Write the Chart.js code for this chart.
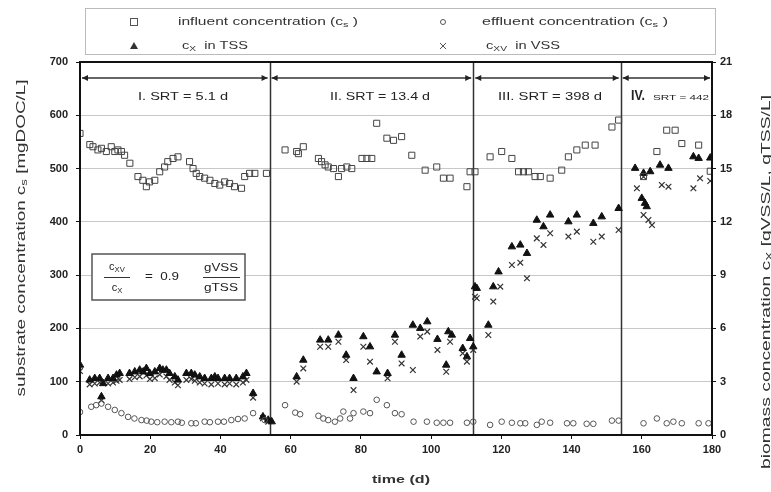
<!DOCTYPE html>
<html>
<head>
<meta charset="utf-8">
<script src="https://cdn.jsdelivr.net/npm/chart.js@4.4.0/dist/chart.umd.min.js"></script>
<style>
  body { margin: 0; background: #fff; }
  #wrap { width: 771px; height: 492px; }
</style>
</head>
<body>
<div id="wrap"><canvas id="chart" width="771" height="492"></canvas></div>
<script>
// datos: [tiempo (d), valor]
const influent = [
  [0,566],[2.8,545],[3.7,541],[5.1,535],[6.1,538],[7.5,532],[8.9,541],[9.9,532],[10.8,535],[11.8,532],
  [12.7,525],[14.2,510],[16.5,485],[17.9,478],[18.9,466],[19.8,475],[21.3,478],[22.7,494],[24.1,503],
  [25,513],[26.5,519],[27.9,522],[31.2,513],[32.2,500],[33.1,491],[34.1,485],[35.5,482],[37,478],
  [38.4,472],[39.8,469],[41.2,475],[42.6,472],[44,466],[46,463],[46.9,485],[48.3,491],[49.8,491],[53.1,491],
  [58.4,535],[61.7,532],[62.2,528],[63.6,541],[67.9,519],[68.8,513],[69.8,507],[70.7,503],[72.2,500],
  [73.6,485],[74.5,500],[76,503],[77.4,500],[80.3,519],[81.7,519],[83.1,519],[84.5,585],[87.4,557],
  [89.3,553],[91.6,560],[94.5,525],[98.3,497],[101.6,503],[103.5,482],[105.4,482],[110.2,466],[111.1,494],[112.5,494],
  [116.8,522],[120.1,532],[123,519],[124.9,494],[126.3,494],[127.7,494],[129.6,485],[131.1,485],[133.9,482],
  [137.2,497],[139.1,522],[141.5,535],[143.9,544],[146.7,544],[151.5,578],[153.4,591],
  [160.5,485],[164.3,532],[167.1,572],[169.5,572],[171.4,547],[176.2,544],[179.5,495]
];
const effluent = [
  [0,43],[3.2,53],[4.6,56],[6.1,59],[8,53],[9.9,47],[11.8,41],[13.7,34],[15.5,31],[17.5,28],[19,27],
  [20.3,25],[22,24],[24.1,25],[26,24],[27.9,25],[29,23],[31.7,22],[33,22],[35.5,25],[37,24],[39.3,25],
  [41,25],[43.1,28],[45,30],[46.9,31],[49.3,41],[52.6,28],
  [58.4,56],[61.3,42],[62.7,39],[67.9,36],[69.3,31],[70.7,28],[72.6,25],[74.1,31],[75,44],[76.9,31],
  [77.9,41],[80.7,44],[82.6,41],[84.5,66],[87.4,56],[89.7,41],[91.6,39],[95,25],[98.8,25],[101.6,23],
  [103.5,23],[105.4,23],[110.2,23],[112,25],
  [116.8,19],[120.1,25],[123,23],[125.4,22],[126.8,22],[130.1,19],[131.5,25],[133.9,23],[138.7,22],
  [140.5,22],[144.3,21],[146.2,21],[151.5,27],[153.4,27],
  [160.5,22],[164.3,31],[167.1,22],[169,25],[171.4,22],[176.2,22],[179,22]
];
const tss = [
  [0,3.94],[2.75,3.10],[4.2,3.19],[5.6,3.19],[6.1,2.16],[6.6,2.9],[8,3.19],[9.4,3.19],[10.4,3.38],
  [11.3,3.47],[14.1,3.47],[15.6,3.56],[17,3.66],[18,3.56],[18.9,3.75],[19.9,3.47],[21.3,3.56],[22.7,3.75],
  [23.6,3.66],[24.6,3.66],[25.5,3.47],[27,3.28],[27.9,3.10],[30.3,3.47],[31.7,3.47],[32.7,3.38],[34.1,3.28],
  [35.5,3.19],[37.4,3.19],[38.4,3.28],[39.3,3.19],[41.2,3.19],[42.6,3.19],[44.5,3.19],[46.4,3.28],
  [47.4,3.47],[49.3,2.35],[52.1,1.03],[53.6,0.84],
  [54.6,0.75],[61.7,3.28],[63.6,4.22],[68.4,5.35],[70.7,5.35],[73.6,5.63],[75.8,4.5],[77.9,3.19],
  [80.7,5.54],[82.6,4.97],[84.5,3.56],[87.6,3.47],[89.7,5.63],[91.6,4.5],[94.8,6.19],[96.9,6.01],
  [98.9,6.38],[101.8,5.39],[104.3,3.94],[104.9,5.82],[105.9,5.63],[109,4.88],[110.2,4.41],[111.1,5.44],[112,4.97],
  [112.5,8.35],[113,8.26],[116.3,6.19],[117.7,8.35],[119.2,9.19],[123,10.6],[125.4,10.7],[127.3,10.23],
  [130.1,12.1],[132,11.73],[133.9,12.39],[139.1,12.01],[141.5,12.39],[146.2,11.92],[148.6,12.29],[153.4,12.76],
  [158.1,15.02],[160,13.33],[160.5,14.74],[160.9,13.05],[161.4,12.86],[162.4,14.83],[165.2,15.2],
  [167.6,15.02],[174.7,15.67],[176.2,15.58],[179.5,15.6]
];
const vss = [
  [0,3.6],[2.75,2.85],[4.2,2.9],[5.6,2.95],[6.1,1.95],[8,2.9],[9.4,2.95],[10.4,3.05],[11.3,3.1],
  [14.1,3.15],[15.6,3.25],[17,3.3],[18.9,3.35],[19.9,3.15],[21.3,3.2],[22.7,3.4],[24.6,3.3],[25.5,3.1],
  [27,2.95],[27.9,2.8],[30.3,3.1],[31.7,3.15],[32.7,3.05],[34.1,2.95],[35.5,2.9],[37.4,2.85],[39.3,2.9],
  [41.2,2.85],[42.6,2.9],[44.5,2.85],[46.4,2.95],[47.4,3.1],[49.3,2.1],[52.1,0.95],[53.6,0.75],
  [61.7,3.0],[63.6,3.75],[68.4,4.97],[70.7,4.97],[73.6,5.25],[75.8,4.22],[77.9,2.53],[80.7,4.97],
  [82.6,4.13],[87.6,3.19],[89.7,5.25],[91.6,4.03],[94.8,3.66],[96.9,5.54],[98.9,5.82],[101.8,4.79],
  [104.3,3.56],[105.4,5.25],[109,4.6],[110.2,4.13],[112,4.79],
  [112.5,7.79],[113,7.7],[116.3,5.63],[117.7,7.51],[119.7,8.35],[123,9.57],[125.4,9.7],[127.3,8.82],
  [130.1,11.07],[132,10.7],[133.9,11.36],[139.1,11.17],[141.5,11.45],[146.2,10.88],[148.6,11.17],[153.4,11.54],
  [158.6,13.89],[160.5,14.54],[160.5,12.39],[161.9,12.11],[162.9,11.82],[165.7,14.08],[167.6,13.98],
  [174.7,13.89],[176.6,14.45],[179.5,14.3]
];

// fases del reactor
const phaseBounds = [0, 54, 112, 154, 180];
const phaseLabels = ['I. SRT = 5.1 d', 'II. SRT = 13.4 d', 'III. SRT = 398 d', 'IV.'];

const FONT = '"Liberation Sans", Arial, sans-serif';
const toXY = arr => arr.map(p => ({ x: p[0], y: p[1] }));

// texto con subindices: partes [texto, esSub]; w = ancho deseado (estira el texto)
function drawParts(ctx, parts, x, y, size, align, w, weight) {
  const wt = weight ? weight + ' ' : '';
  let total = 0;
  parts.forEach(p => {
    ctx.font = wt + (p[1] ? size * 0.7 : size) + 'px ' + FONT;
    total += ctx.measureText(p[0]).width;
  });
  const k = w ? w / total : 1;
  ctx.save();
  ctx.translate(x, y);
  ctx.scale(k, 1);
  let cx = align === 'center' ? -total / 2 : 0;
  ctx.textAlign = 'left';
  ctx.textBaseline = 'middle';
  parts.forEach(p => {
    ctx.font = wt + (p[1] ? size * 0.7 : size) + 'px ' + FONT;
    ctx.fillText(p[0], cx, p[1] ? size * 0.3 : 0);
    cx += ctx.measureText(p[0]).width;
  });
  ctx.restore();
}

const overlay = {
  id: 'overlay',
  beforeDatasetsDraw(chart) {
    const { ctx, chartArea: a, scales } = chart;
    ctx.save();
    // lineas de cambio de fase
    ctx.strokeStyle = '#333';
    ctx.lineWidth = 1.5;
    phaseBounds.slice(1, -1).forEach(d => {
      const px = Math.round(scales.x.getPixelForValue(d)) + 0.5;
      ctx.beginPath();
      ctx.moveTo(px, a.top);
      ctx.lineTo(px, a.bottom);
      ctx.stroke();
    });
    // flechas de cada fase
    const ay = scales.y.getPixelForValue(670);
    ctx.fillStyle = '#222';
    for (let i = 0; i < phaseBounds.length - 1; i++) {
      const x1 = scales.x.getPixelForValue(phaseBounds[i]) + 2;
      const x2 = scales.x.getPixelForValue(phaseBounds[i + 1]) - 2;
      ctx.lineWidth = 1.5;
      ctx.beginPath();
      ctx.moveTo(x1, ay);
      ctx.lineTo(x2, ay);
      ctx.stroke();
      ctx.beginPath();
      ctx.moveTo(x1, ay); ctx.lineTo(x1 + 6, ay - 3); ctx.lineTo(x1 + 6, ay + 3); ctx.closePath();
      ctx.moveTo(x2, ay); ctx.lineTo(x2 - 6, ay - 3); ctx.lineTo(x2 - 6, ay + 3); ctx.closePath();
      ctx.fill();
    }
    // etiquetas de fase
    const ly = scales.y.getPixelForValue(634);
    ctx.fillStyle = '#222';
    drawParts(ctx, [[phaseLabels[0], 0]], 183, ly, 11, 'center', 90);
    drawParts(ctx, [[phaseLabels[1], 0]], 380, ly, 11, 'center', 100);
    drawParts(ctx, [[phaseLabels[2], 0]], 550, ly, 11, 'center', 104);
    drawParts(ctx, [[phaseLabels[3], 0]], 631, ly - 1, 14, 'left', 14, 'bold');
    drawParts(ctx, [['SRT = 442', 0]], 653, ly + 1, 8, 'left', 56);
    ctx.restore();
  },
  afterDraw(chart) {
    const { ctx, chartArea: a } = chart;
    ctx.save();
    // marco del grafico
    ctx.strokeStyle = '#111';
    ctx.lineWidth = 2;
    ctx.strokeRect(a.left, a.top, a.right - a.left, a.bottom - a.top);

    // leyenda
    ctx.strokeStyle = '#bbb';
    ctx.lineWidth = 1;
    ctx.strokeRect(85.5, 8.5, 630, 46);
    ctx.fillStyle = '#333';
    const r1 = 22, r2 = 46;
    ctx.strokeStyle = '#555';
    ctx.strokeRect(130.5, r1 - 3.5, 7, 7);
    ctx.beginPath(); ctx.arc(443, r1, 2.5, 0, Math.PI * 2); ctx.stroke();
    ctx.beginPath(); ctx.moveTo(134, r2 - 4); ctx.lineTo(138, r2 + 3); ctx.lineTo(130, r2 + 3); ctx.closePath(); ctx.fill();
    ctx.beginPath(); ctx.moveTo(440, r2 - 3); ctx.lineTo(446, r2 + 3); ctx.moveTo(446, r2 - 3); ctx.lineTo(440, r2 + 3); ctx.stroke();
    drawParts(ctx, [['influent concentration (c', 0], ['s', 1], [' )', 0]], 178, r1, 11, 'left', 180);
    drawParts(ctx, [['effluent concentration (c', 0], ['s', 1], [' )', 0]], 482, r1, 11, 'left', 186);
    drawParts(ctx, [['c', 0], ['X', 1], ['  in TSS', 0]], 182, r2, 11, 'left', 66);
    drawParts(ctx, [['c', 0], ['XV', 1], ['  in VSS', 0]], 486, r2, 11, 'left', 74);

    // cuadro de la relacion VSS/TSS
    ctx.fillStyle = '#fff';
    ctx.fillRect(92, 254, 153, 46);
    ctx.strokeStyle = '#555';
    ctx.lineWidth = 1.5;
    ctx.strokeRect(92, 254, 153, 46);
    ctx.fillStyle = '#222';
    drawParts(ctx, [['c', 0], ['XV', 1]], 117, 267, 11, 'center');
    drawParts(ctx, [['c', 0], ['X', 1]], 117, 288, 11, 'center');
    ctx.strokeStyle = '#333';
    ctx.lineWidth = 1;
    ctx.beginPath(); ctx.moveTo(104, 277.5); ctx.lineTo(130, 277.5); ctx.moveTo(203, 277.5); ctx.lineTo(240, 277.5); ctx.stroke();
    drawParts(ctx, [['=  0.9', 0]], 162, 277, 11, 'center', 34);
    drawParts(ctx, [['gVSS', 0]], 221, 268, 11, 'center', 34);
    drawParts(ctx, [['gTSS', 0]], 221, 288, 11, 'center', 34);

    // titulos de ejes
    ctx.fillStyle = '#333';
    ctx.save();
    ctx.translate(21, 238);
    ctx.rotate(-Math.PI / 2);
    drawParts(ctx, [['substrate concentration c', 0], ['s', 1], [' [mgDOC/L]', 0]], 0, 0, 13, 'center', 317);
    ctx.restore();
    ctx.save();
    ctx.translate(766, 282);
    ctx.rotate(-Math.PI / 2);
    drawParts(ctx, [['biomass concentration c', 0], ['X', 1], [' [gVSS/L, gTSS/L]', 0]], 0, 0, 13, 'center', 374);
    ctx.restore();
    drawParts(ctx, [['time (d)', 0]], 401, 480, 11, 'center', 58, 'bold');
    ctx.restore();
  }
};

const tickFont = { family: FONT, size: 11, weight: 'bold' };

new Chart(document.getElementById('chart'), {
  type: 'scatter',
  data: {
    datasets: [
      { label: 'influent', data: toXY(influent), yAxisID: 'y', pointStyle: 'rect', pointRadius: 4.3,
        borderColor: '#444', backgroundColor: 'rgba(0,0,0,0)', borderWidth: 1 },
      { label: 'effluent', data: toXY(effluent), yAxisID: 'y', pointStyle: 'circle', pointRadius: 2.8,
        borderColor: '#555', backgroundColor: 'rgba(0,0,0,0)', borderWidth: 1 },
      { label: 'TSS', data: toXY(tss), yAxisID: 'y2', pointStyle: 'triangle', pointRadius: 4.3,
        borderColor: '#111', backgroundColor: '#111', borderWidth: 1 },
      { label: 'VSS', data: toXY(vss), yAxisID: 'y2', pointStyle: 'crossRot', pointRadius: 4,
        borderColor: '#333', borderWidth: 1.2 }
    ]
  },
  options: {
    responsive: false,
    animation: false,
    layout: { padding: { top: 62 } },
    plugins: { legend: { display: false }, tooltip: { enabled: false } },
    scales: {
      x: {
        type: 'linear', min: 0, max: 180,
        ticks: { stepSize: 20, font: tickFont, color: '#222', padding: 4 },
        grid: { drawOnChartArea: false, tickLength: 4, tickColor: '#111' },
        border: { display: false },
        afterFit: s => { s.height = 57; }
      },
      y: {
        position: 'left', min: 0, max: 700,
        ticks: { stepSize: 100, font: tickFont, color: '#222', padding: 8 },
        grid: { color: '#c8c8c8', tickLength: 4, tickColor: '#111' },
        border: { display: false },
        afterFit: s => { s.width = 80; }
      },
      y2: {
        position: 'right', min: 0, max: 21,
        ticks: { stepSize: 3, font: tickFont, color: '#222', padding: 4 },
        grid: { drawOnChartArea: false, tickLength: 4, tickColor: '#111' },
        border: { display: false },
        afterFit: s => { s.width = 59; }
      }
    }
  },
  plugins: [overlay]
});
</script>
</body>
</html>
